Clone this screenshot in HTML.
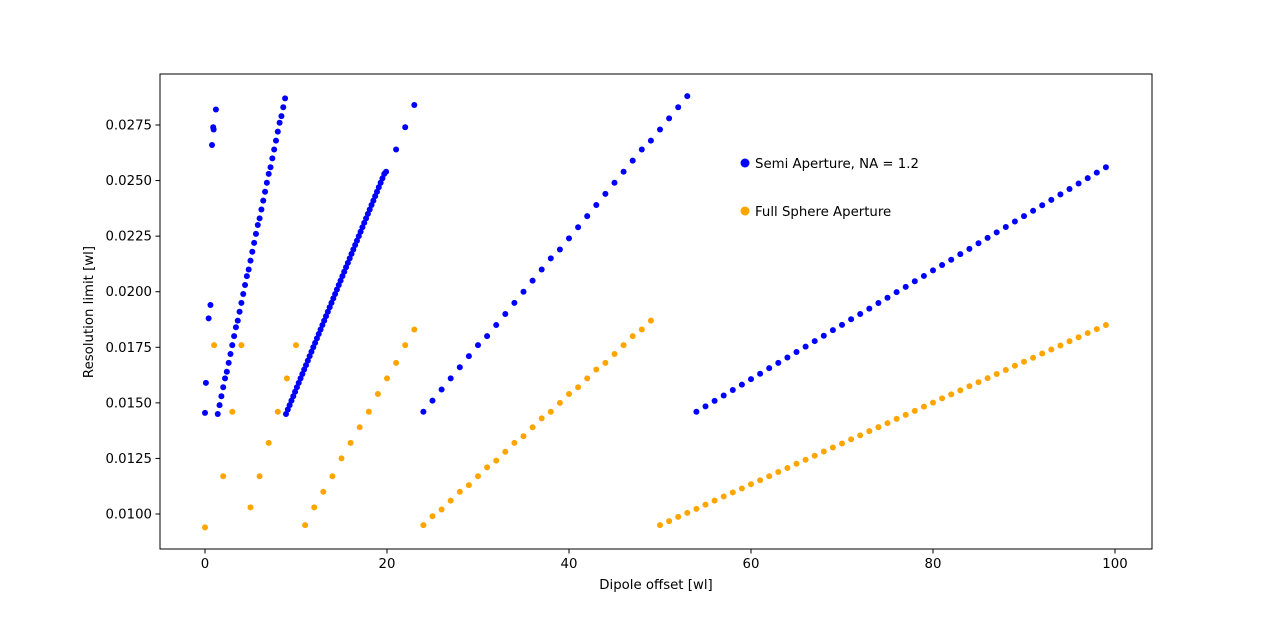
<!DOCTYPE html>
<html><head><meta charset="utf-8"><style>
body{margin:0;background:#fff;}
svg{display:block;font-family:"DejaVu Sans","Liberation Sans",sans-serif;}
</style></head><body>
<svg id="chart" width="1280" height="617">
<rect x="160" y="74" width="992" height="475" fill="#fff" stroke="#000" stroke-width="1"/>
<g id="ticks"></g><g id="pts"></g>
<text x="656" y="589" font-size="13.3" text-anchor="middle">Dipole offset [wl]</text>
<text x="93" y="312" font-size="13.3" text-anchor="middle" transform="rotate(-90 93 312)">Resolution limit [wl]</text>
<g>
<circle cx="745" cy="163" r="4.5" fill="#0000ff"/>
<text x="755" y="168" font-size="13.3">Semi Aperture, NA = 1.2</text>
<circle cx="745" cy="211" r="4.5" fill="#ffa500"/>
<text x="755" y="216" font-size="13.3">Full Sphere Aperture</text>
</g>
</svg>
<script>
const xTicks=[0,20,40,60,80,100];
const yTicks=[0.0100,0.0125,0.0150,0.0175,0.0200,0.0225,0.0250,0.0275];
const blueA_x=[0,0.1,0.4,0.6,0.77,0.9,0.95,1.2];
const blueA_y=[0.01455,0.0159,0.0188,0.0194,0.0266,0.0274,0.0273,0.0282];
const blueB_y=[0.0145,0.0149,0.0153,0.0157,0.0161,0.0164,0.0168,0.0172,0.0176,0.0180,0.0184,0.0187,0.0191,0.0195,0.0199,0.0203,0.0207,0.0210,0.0214,0.0218,0.0222,0.0226,0.0230,0.0233,0.0237,0.0241,0.0245,0.0249,0.0253,0.0256,0.0260,0.0264,0.0268,0.0272,0.0276,0.0279,0.0283,0.0287];
const blueC_y=[0.0145,0.0147,0.0149,0.0151,0.0153,0.0155,0.0157,0.0159,0.0161,0.0163,0.0165,0.0167,0.0169,0.0171,0.0173,0.0175,0.0177,0.0179,0.0181,0.0183,0.0185,0.0187,0.0189,0.0191,0.0193,0.0195,0.0197,0.0199,0.0201,0.0203,0.0205,0.0207,0.0209,0.0211,0.0213,0.0215,0.0217,0.0219,0.0221,0.0223,0.0225,0.0227,0.0229,0.0231,0.0233,0.0235,0.0237,0.0239,0.0241,0.0243,0.0245,0.0247,0.0249,0.0251,0.0253,0.0254];
const blueMid_x=[21,22,23];
const blueMid_y=[0.0264,0.0274,0.0284];
const blueD_y=[0.0146,0.0151,0.0156,0.0161,0.0166,0.0171,0.0176,0.0180,0.0185,0.0190,0.0195,0.0200,0.0205,0.0210,0.0215,0.0219,0.0224,0.0229,0.0234,0.0239,0.0244,0.0249,0.0254,0.0259,0.0264,0.0268,0.0273,0.0278,0.0283,0.0288];
const blueE_y=[0.01460,0.01484,0.01509,0.01533,0.01558,0.01582,0.01607,0.01631,0.01656,0.01680,0.01704,0.01729,0.01753,0.01778,0.01802,0.01827,0.01851,0.01876,0.01900,0.01924,0.01949,0.01973,0.01998,0.02022,0.02047,0.02071,0.02096,0.02120,0.02144,0.02169,0.02193,0.02218,0.02242,0.02267,0.02291,0.02316,0.02340,0.02364,0.02389,0.02413,0.02438,0.02462,0.02487,0.02511,0.02536,0.02560];
const orange_y=[0.0094,0.0176,0.0117,0.0146,0.0176,0.0103,0.0117,0.0132,0.0146,0.0161,0.0176,
0.0095,0.0103,0.0110,0.0117,0.0125,0.0132,0.0139,0.0146,0.0154,0.0161,0.0168,0.0176,0.0183,
0.0095,0.0099,0.0102,0.0106,0.0110,0.0113,0.0117,0.0121,0.0124,0.0128,0.0132,0.0135,0.0139,0.0143,0.0146,0.0150,0.0154,0.0157,0.0161,0.0165,0.0168,0.0172,0.0176,0.0180,0.0183,0.0187,
0.00950,0.00968,0.00987,0.01005,0.01023,0.01042,0.01060,0.01079,0.01097,0.01115,0.01134,0.01152,0.01170,0.01189,0.01207,0.01226,0.01244,0.01262,0.01281,0.01299,0.01317,0.01336,0.01354,0.01373,0.01391,0.01409,0.01428,0.01446,0.01464,0.01483,0.01501,0.01520,0.01538,0.01556,0.01575,0.01593,0.01611,0.01630,0.01648,0.01667,0.01685,0.01703,0.01722,0.01740,0.01758,0.01777,0.01795,0.01814,0.01832,0.01850];

const NS='http://www.w3.org/2000/svg';
const X=v=>205+v*9.1;
const Y=v=>514-(v-0.01)/0.0025*55.57;
const tg=document.getElementById('ticks');
const pg=document.getElementById('pts');
function mk(tag,attrs,parent){const e=document.createElementNS(NS,tag);for(const k in attrs)e.setAttribute(k,attrs[k]);parent.appendChild(e);return e;}
xTicks.forEach(t=>{
  const l=mk('line',{x1:X(t),x2:X(t),y1:549,y2:553.5,stroke:'#000'},tg);
  
  
  const tx=mk('text',{x:X(t),y:568,'font-size':13.3,'text-anchor':'middle'},tg);tx.textContent=t;
  
  
});
yTicks.forEach(t=>{
  const l=mk('line',{x1:155.5,x2:160,y1:Y(t),y2:Y(t),stroke:'#000'},tg);
  
  
  const tx=mk('text',{x:152,y:Y(t)+4.5,'font-size':13.3,'text-anchor':'end'},tg);tx.textContent=t.toFixed(4);
  
  
});
function dot(x,y,c,name){
  const e=mk('circle',{cx:X(x),cy:Y(y),r:3,fill:c},pg);
  
  
}
const B='#0000ff',O='#ffa500';
blueA_x.forEach((x,i)=>dot(x,blueA_y[i],B,'semi-point'));
blueB_y.forEach((y,i)=>dot(1.4+i*0.2,y,B,'semi-point'));
blueC_y.forEach((y,i)=>dot(8.9+i*0.2,y,B,'semi-point'));
blueMid_x.forEach((x,i)=>dot(x,blueMid_y[i],B,'semi-point'));
blueD_y.forEach((y,i)=>dot(24+i,y,B,'semi-point'));
blueE_y.forEach((y,i)=>dot(54+i,y,B,'semi-point'));
orange_y.forEach((y,i)=>dot(i,y,O,'full-point'));
</script>
</body></html>
